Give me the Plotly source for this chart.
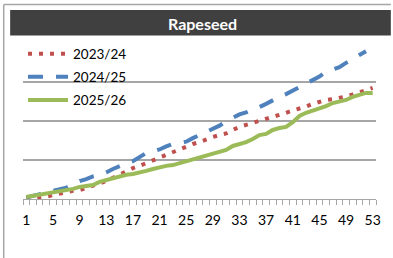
import plotly.graph_objects as go

weeks = list(range(1, 54))
tick_labels = [str(w) for w in range(1, 54, 4)]

s2023_24 = [0.00, 0.03, 0.04, 0.06, 0.10, 0.13, 0.17, 0.21, 0.23, 0.28,
            0.35, 0.40, 0.46, 0.54, 0.63, 0.72, 0.79, 0.85, 0.92, 1.00,
            1.05, 1.13, 1.21, 1.27, 1.33, 1.41, 1.46, 1.53, 1.59, 1.64,
            1.68, 1.77, 1.85, 1.90, 1.95, 2.00, 2.04, 2.09, 2.15, 2.21,
            2.27, 2.31, 2.37, 2.44, 2.50, 2.54, 2.56, 2.59, 2.63, 2.68,
            2.74, 2.81, 2.85]
s2024_25 = [0.04, 0.08, 0.12, 0.17, 0.21, 0.26, 0.29, 0.37, 0.46, 0.51,
            0.58, 0.62, 0.68, 0.77, 0.85, 0.91, 0.97, 1.08, 1.18, 1.22,
            1.27, 1.35, 1.41, 1.44, 1.47, 1.56, 1.64, 1.72, 1.79, 1.88,
            1.99, 2.09, 2.17, 2.22, 2.28, 2.36, 2.44, 2.54, 2.62, 2.69,
            2.78, 2.87, 2.94, 3.03, 3.14, 3.26, 3.32, 3.38, 3.49, 3.58,
            3.69, 3.79]
s2025_26 = [0.05, 0.08, 0.10, 0.13, 0.18, 0.21, 0.23, 0.26, 0.31, 0.33,
            0.36, 0.44, 0.49, 0.54, 0.59, 0.62, 0.64, 0.67, 0.72, 0.77,
            0.82, 0.85, 0.87, 0.92, 0.95, 1.00, 1.05, 1.10, 1.15, 1.21,
            1.26, 1.36, 1.41, 1.46, 1.54, 1.64, 1.67, 1.77, 1.82, 1.85,
            1.97, 2.13, 2.21, 2.26, 2.33, 2.38, 2.46, 2.51, 2.54, 2.62,
            2.67, 2.72, 2.72]

FONT = "Lato"
W, H = 393, 258
L, R, T, B = 23, 13, 43, 59
pw, ph = W - L - R, H - T - B

def px(x):
    return (x - L) / pw

def py(y):
    return (H - B - y) / ph

fig = go.Figure()
fig.add_trace(go.Scatter(x=weeks[:len(s2023_24)], y=s2023_24, mode="lines", name="2023/24",
                         legendgroup="a",
                         line=dict(color="#C0504D", width=4, dash="4px,7px")))
fig.add_trace(go.Scatter(x=weeks[:len(s2024_25)], y=s2024_25, mode="lines", name="2024/25",
                         legendgroup="b",
                         line=dict(color="#4F81BD", width=4, dash="15px,13px")))
fig.add_trace(go.Scatter(x=weeks[:len(s2025_26)], y=s2025_26, mode="lines", name="2025/26",
                         legendgroup="c",
                         line=dict(color="#9BBB59", width=4)))

fig.update_layout(
    width=W, height=H,
    margin=dict(l=L, r=R, t=T, b=B, pad=0),
    paper_bgcolor="white", plot_bgcolor="white",
    font=dict(family=FONT, size=14, color="black"),
    showlegend=True,
    legend=dict(x=0, y=py(38.5), xanchor="left", yanchor="top",
                bgcolor="rgba(0,0,0,0)", font=dict(size=13.5, family=FONT),
                tracegroupgap=2.5, itemwidth=40),
    xaxis=dict(range=[0.5, 53.5], tickmode="array",
               tickvals=[int(t) for t in tick_labels], ticktext=tick_labels,
               ticks="", showgrid=False, zeroline=False,
               showline=True, linecolor="#A6A6A6", linewidth=1,
               tickfont=dict(size=14, family=FONT),
               ticklabelstandoff=8,
               minor=dict(tickmode="array",
                          tickvals=[w - 0.5 for w in weeks] + [weeks[-1] + 0.5],
                          ticks="outside", ticklen=5, tickwidth=1,
                          tickcolor="#A6A6A6", showgrid=False)),
    yaxis=dict(range=[0, 4], dtick=1, showticklabels=False, ticks="",
               showgrid=True, gridcolor="#A6A6A6", gridwidth=1.5,
               zeroline=False, showline=False),
    shapes=[
        dict(type="rect", xref="paper", yref="paper",
             x0=px(10), x1=px(395), y0=py(35.5), y1=py(10),
             fillcolor="#404040", line=dict(width=0), layer="below"),
        dict(type="rect", xref="paper", yref="paper",
             x0=px(22), x1=px(143), y0=py(112), y1=py(46),
             fillcolor="white", line=dict(width=0), layer="between"),
        dict(type="line", xref="paper", yref="paper",
             x0=px(3.5), x1=px(3.5), y0=py(4.5), y1=py(260),
             line=dict(color="#A6A6A6", width=1.5)),
        dict(type="line", xref="paper", yref="paper",
             x0=px(3.5), x1=px(395), y0=py(4.5), y1=py(4.5),
             line=dict(color="#A6A6A6", width=1.5)),
    ],
    annotations=[
        dict(text="<b>Rapeseed</b>", xref="paper", yref="paper",
             x=px(205), y=py(23), xanchor="center", yanchor="middle",
             showarrow=False, font=dict(family=FONT, size=16, color="white")),
    ],
)

fig.write_html("out.html", config={"displayModeBar": False},
               post_script="document.body.style.margin='0';document.body.style.overflow='hidden';")
